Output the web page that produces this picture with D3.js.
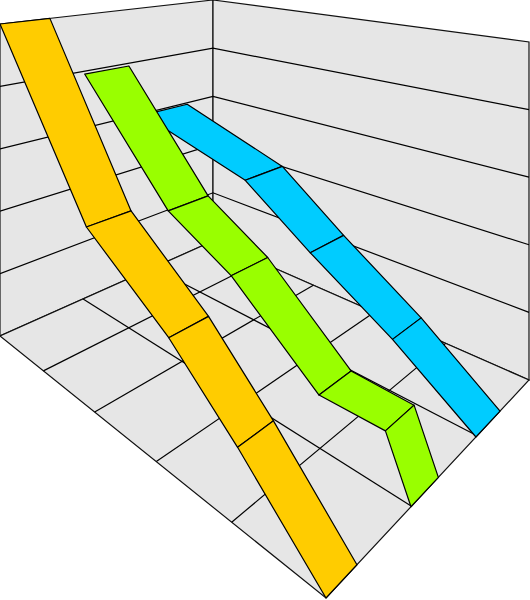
<!DOCTYPE html>
<html>
<head>
<meta charset="utf-8">
<script src="https://cdn.jsdelivr.net/npm/d3@7"></script>
<style>
  html, body { margin: 0; padding: 0; background: #fff; }
  svg { display: block; }
</style>
</head>
<body>
<svg id="chart" width="530" height="600"></svg>
<script>
// Values
const xTicks = [0, 1, 2, 3, 4, 5];
const yTicks = [0, 1, 2, 3, 4, 5];
const zTicks = [0, 1, 2, 3];

const orangeX = [0, 1.85, 3.18, 4.07, 5];
const orangeY = [5, 2.47, 1.64, 0.89, 0];
const greenX = [0, 1.74, 2.79, 3.99, 4.74, 5];
const greenY = [3.95, 2.19, 1.66, 0.68, 0.71, 0];
const blueX = [0, 1.96, 2.98, 4.07, 5];
const blueY = [2.97, 2.37, 1.58, 0.8, 0];

// Corners of the box on screen
const floorA = [0, 336], floorB = [326, 598], floorC = [529, 380], floorD = [213, 241];
const topA = 24, topC = 42, topD = 0;

const xScale = d3.scaleLinear().domain([0, 5]).range([0, 1]);
const yScale = d3.scaleLinear().domain([0, 5]).range([0, 1]);
const zScale = d3.scaleLinear().domain([0, 3]).range([0, 1]);

// Floor homography from the four corners
const det = (p, q) => p[0] * q[1] - p[1] * q[0];
const dx1 = [floorB[0] - floorC[0], floorB[1] - floorC[1]];
const dx2 = [floorD[0] - floorC[0], floorD[1] - floorC[1]];
const s = [floorA[0] - floorB[0] + floorC[0] - floorD[0], floorA[1] - floorB[1] + floorC[1] - floorD[1]];
const g = det(s, dx2) / det(dx1, dx2);
const h = det(dx1, s) / det(dx1, dx2);
const wB = 1 + g, wC = 1 + g + h, wD = 1 + h;

function project(u, v, t) {
    const w = 1 + g * u + h * v;
    const sx = ((floorB[0] * wB - floorA[0]) * u + (floorD[0] * wD - floorA[0]) * v + floorA[0]) / w;
    const yFloor = ((floorB[1] * wB - floorA[1]) * u + (floorD[1] * wD - floorA[1]) * v + floorA[1]) / w;
    const betaV = topD * wD - topA;
    const betaU = topC * wC - topA - betaV;
    const yTop = (betaU * u + betaV * v + topA) / w;
    return [sx, yFloor + (yTop - yFloor) * t];
}

const svg = d3.select("#chart");
const line = d3.line();
const poly = pts => line(pts) + "Z";

// Walls and floor
const wallFill = "#e6e6e6";
const faces = [
    [[0, 0, 0], [0, 1, 0], [0, 1, 1], [0, 0, 1]],
    [[0, 1, 0], [1, 1, 0], [1, 1, 1], [0, 1, 1]],
    [[0, 0, 0], [1, 0, 0], [1, 1, 0], [0, 1, 0]]
];
svg.selectAll(".face")
    .data(faces)
    .enter().append("path")
    .attr("class", "face")
    .attr("d", d => poly(d.map(p => project(...p))))
    .attr("fill", wallFill)
    .attr("stroke", "#111")
    .attr("stroke-width", 1.2);

// Grid lines
const gridLines = [];
yTicks.slice(1, -1).forEach(y => {
    const t = yScale(y);
    gridLines.push([project(0, 0, t), project(0, 1, t), project(1, 1, t)]);
});
xTicks.slice(1, -1).forEach(x => {
    const u = xScale(x);
    gridLines.push([project(u, 0, 0), project(u, 1, 0)]);
});
zTicks.slice(1, -1).forEach(z => {
    const v = zScale(z);
    gridLines.push([project(0, v, 0), project(1, v, 0)]);
});
svg.selectAll(".grid")
    .data(gridLines)
    .enter().append("path")
    .attr("class", "grid")
    .attr("d", d => line(d))
    .attr("fill", "none")
    .attr("stroke", "#000")
    .attr("stroke-width", 1.2);

// Ribbons, furthest first. edges: depth of the front and back rim at each end
const ribbons = [
    { x: blueX, y: blueY, color: "#00ccff", front: [0.62, 0.66], back: [0.85, 0.805] },
    { x: greenX, y: greenY, color: "#99ff00", front: [0.34, 0.331], back: [0.545, 0.46] },
    { x: orangeX, y: orangeY, color: "#ffcc00", front: [0, 0], back: [0.193, 0.11] }
];

ribbons.forEach(r => {
    const frontV = d3.scaleLinear().domain([0, 1]).range(r.front);
    const backV = d3.scaleLinear().domain([0, 1]).range(r.back);
    const rim = (x, y, edge) => {
        const u = xScale(x);
        return project(u, edge(u), yScale(y));
    };
    // nearer segments paint over further ones
    const segments = d3.pairs(d3.range(r.x.length));
    svg.append("g").selectAll("path")
        .data(segments)
        .enter().append("path")
        .attr("d", ([i, j]) => poly([
            rim(r.x[i], r.y[i], frontV),
            rim(r.x[j], r.y[j], frontV),
            rim(r.x[j], r.y[j], backV),
            rim(r.x[i], r.y[i], backV)
        ]))
        .attr("fill", r.color)
        .attr("stroke", "#000")
        .attr("stroke-width", 1.2)
        .attr("stroke-linejoin", "round");
});
</script>
</body>
</html>
